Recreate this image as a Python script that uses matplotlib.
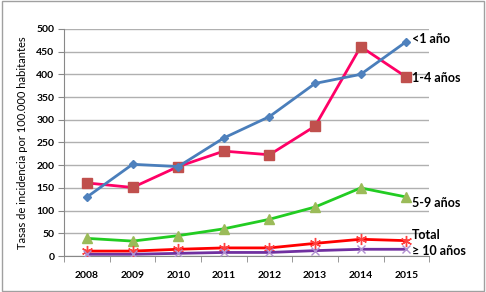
import numpy as np
import matplotlib
matplotlib.use('Agg')
import matplotlib.pyplot as plt
from matplotlib.patches import Rectangle

plt.rcParams['font.family'] = ['Lato', 'DejaVu Sans']

years = ['2008', '2009', '2010', '2011', '2012', '2013', '2014', '2015']
menor1 = [130, 202, 197, 260, 307, 380, 400, 472]
de1a4 = [161, 151, 197, 231, 223, 286, 461, 394]
de5a9 = [39, 33, 45, 60, 81, 108, 150, 130]
total = [11, 11, 15, 18, 18, 28, 37, 34]
mayor10 = [4, 4, 6, 8, 8, 12, 15, 15]
y_ticks = np.arange(0, 501, 50)

fig = plt.figure(figsize=(4.86, 2.92), dpi=100)
fig.patches.append(Rectangle((0.004, 0.004), 0.992, 0.992, transform=fig.transFigure,
                             fill=False, edgecolor='#a0a0a0', linewidth=1))
ax = fig.add_axes([0.132, 0.123, 0.751, 0.778])
x = np.arange(len(years))

ax.plot(x, menor1, color='#4a7ebb', linewidth=2, marker='D', ms=4.5,
        mfc='#4f81bd', mec='#4f81bd', zorder=5)
ax.plot(x, de1a4, color='#ff0066', linewidth=2, marker='s', ms=6.5,
        mfc='#c0504d', mec='#c0504d', zorder=4)
ax.plot(x, de5a9, color='#22cc22', linewidth=2, marker='^', ms=7,
        mfc='#9bbb59', mec='#9bbb59', zorder=4)
ax.plot(x, total, color='#ff0000', linewidth=2, marker=(6, 2, 0), ms=8,
        mec='#ff4040', mew=1, zorder=4)
ax.plot(x, mayor10, color='#7030a0', linewidth=2, marker='x', ms=6,
        mec='#b090d0', mew=1, zorder=4)

labels = [('<1 año', menor1[-1], 2), ('1-4 años', de1a4[-1], -1),
          ('5-9 años', de5a9[-1], -4), ('Total', total[-1], 4),
          ('≥ 10 años', mayor10[-1], -1)]
for txt, v, dy in labels:
    ax.annotate(txt, xy=(7, v), xytext=(4, dy), textcoords='offset points',
                fontsize=9, fontweight='bold', va='center', ha='left',
                annotation_clip=False)

ax.set_xlim(-0.5, 7.5)
ax.set_ylim(0, 500)
ax.set_xticks(x)
ax.set_xticklabels(years, fontsize=7.5, fontweight='bold')
ax.set_xticks(np.arange(-0.5, 8, 1), minor=True)
ax.tick_params(axis='x', which='major', length=0, pad=11)
ax.tick_params(axis='x', which='minor', length=4, color='#888888')
ax.set_yticks(y_ticks)
ax.set_yticklabels([str(v) for v in y_ticks], fontsize=7.5, fontweight='bold')
ax.tick_params(axis='y', length=4, color='#888888', pad=3)
ax.grid(axis='y', color='#b0b0b0', linewidth=1)
ax.set_axisbelow(True)
for s in ['top', 'right']:
    ax.spines[s].set_visible(False)
for s in ['left', 'bottom']:
    ax.spines[s].set_color('#888888')
ax.set_ylabel('Tasas de incidencia por 100.000 habitantes', fontsize=8, labelpad=6)

plt.savefig('out.png', dpi=100)
